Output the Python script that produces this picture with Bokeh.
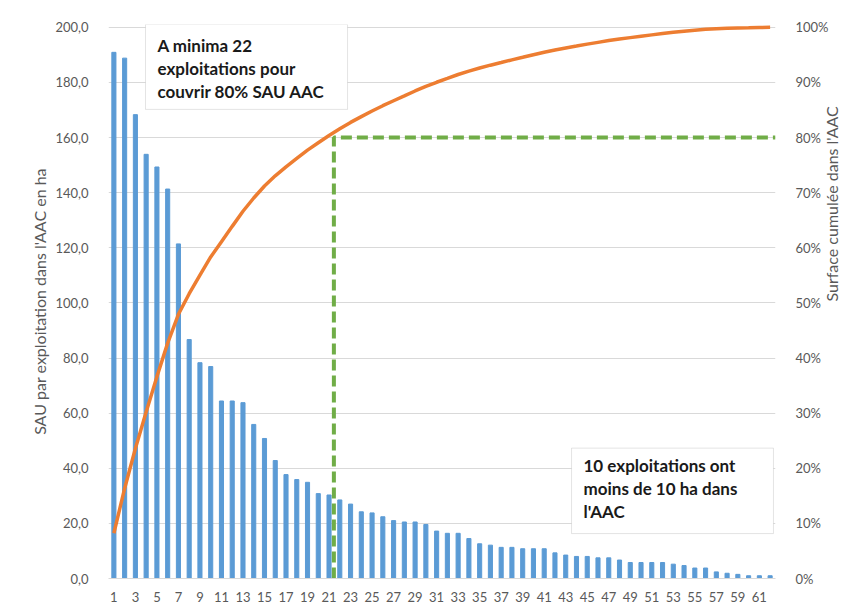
import math
from bokeh.plotting import figure
from bokeh.models import Range1d, LinearAxis, Label, BoxAnnotation, FixedTicker
from bokeh.embed import file_html
from bokeh.resources import INLINE

# ---- data ----
exploitations = list(range(1, 63))
sau_ha = [190.9, 188.8, 168.3, 153.9, 149.3, 141.3, 121.4, 86.7, 78.3, 76.9,
          64.4, 64.4, 63.8, 55.9, 50.8, 42.8, 37.7, 35.9, 34.9, 30.8,
          30.3, 28.5, 27.0, 24.2, 23.8, 22.4, 21.0, 20.5, 20.5, 19.6,
          17.2, 16.4, 16.4, 14.5, 12.6, 12.1, 11.3, 11.3, 10.8, 10.8,
          10.8, 9.3, 8.5, 8.0, 8.0, 7.5, 7.5, 6.7, 5.8, 5.8,
          5.8, 5.8, 5.2, 4.7, 3.8, 3.8, 2.4, 1.9, 1.5, 1.0,
          1.0, 1.0]
surface_cumulee = [0.0821, 0.1634, 0.2358, 0.3020, 0.3662, 0.4270, 0.4793, 0.5166, 0.5503, 0.5833,
                   0.6110, 0.6388, 0.6662, 0.6903, 0.7121, 0.7305, 0.7468, 0.7622, 0.7772, 0.7905,
                   0.8035, 0.8158, 0.8274, 0.8378, 0.8480, 0.8577, 0.8667, 0.8755, 0.8844, 0.8928,
                   0.9002, 0.9072, 0.9143, 0.9205, 0.9260, 0.9312, 0.9360, 0.9409, 0.9455, 0.9502,
                   0.9548, 0.9588, 0.9625, 0.9659, 0.9694, 0.9726, 0.9758, 0.9787, 0.9812, 0.9837,
                   0.9862, 0.9887, 0.9909, 0.9929, 0.9946, 0.9962, 0.9973, 0.9981, 0.9987, 0.9991,
                   0.9996, 1.0000]
x_ticks = list(range(1, 63, 2))
left_ticks = [0, 20, 40, 60, 80, 100, 120, 140, 160, 180, 200]
left_tick_labels = ["0,0", "20,0", "40,0", "60,0", "80,0", "100,0", "120,0", "140,0", "160,0", "180,0", "200,0"]
right_ticks = [0.0, 0.1, 0.2, 0.3, 0.4, 0.5, 0.6, 0.7, 0.8, 0.9, 1.0]
right_tick_labels = ["0%", "10%", "20%", "30%", "40%", "50%", "60%", "70%", "80%", "90%", "100%"]
seuil_x = 21.45
seuil_pct = 0.80

FONT = "Lato"
GREY = "#595959"

p = figure(width=861, height=616, output_backend="svg", toolbar_location=None,
           x_range=Range1d(0.5, 62.5), y_range=Range1d(0, 201),
           min_border_left=108, min_border_right=86, min_border_top=24, min_border_bottom=38)
p.extra_y_ranges = {"pct": Range1d(0, 1.005)}
p.outline_line_color = None
p.background_fill_color = "white"
p.border_fill_color = "white"

# grid
p.xgrid.grid_line_color = None
p.ygrid.grid_line_color = "#D9D9D9"
p.ygrid.ticker = FixedTicker(ticks=left_ticks)

# axes
p.xaxis.ticker = FixedTicker(ticks=x_ticks)
p.xaxis.axis_line_color = "#D9D9D9"
p.xaxis.major_tick_line_color = None
p.xaxis.minor_tick_line_color = None
p.xaxis.major_label_text_font = FONT
p.xaxis.major_label_text_font_size = "13px"
p.xaxis.major_label_text_color = GREY
p.xaxis.major_label_standoff = 7

p.yaxis.ticker = FixedTicker(ticks=left_ticks)
p.yaxis.major_label_overrides = dict(zip(left_ticks, left_tick_labels))
p.yaxis.axis_line_color = None
p.yaxis.major_tick_line_color = None
p.yaxis.minor_tick_line_color = None
p.yaxis.major_label_text_font = FONT
p.yaxis.major_label_text_font_size = "13px"
p.yaxis.major_label_text_color = GREY
p.yaxis.major_label_standoff = 14
p.yaxis.axis_label = "SAU par exploitation dans l'AAC en ha"
p.yaxis.axis_label_text_font = FONT
p.yaxis.axis_label_text_font_style = "normal"
p.yaxis.axis_label_text_font_size = "16px"
p.yaxis.axis_label_text_color = GREY
p.yaxis.axis_label_standoff = 3

ax_r = LinearAxis(y_range_name="pct", ticker=FixedTicker(ticks=right_ticks))
ax_r.major_label_overrides = dict(zip(right_ticks, right_tick_labels))
ax_r.axis_line_color = None
ax_r.major_tick_line_color = None
ax_r.minor_tick_line_color = None
ax_r.major_label_text_font = FONT
ax_r.major_label_text_font_size = "13px"
ax_r.major_label_text_color = GREY
ax_r.major_label_standoff = 14
p.add_layout(ax_r, "right")

# right axis title on a tick-less companion axis, reading bottom-to-top
ax_t = LinearAxis(y_range_name="pct", ticker=FixedTicker(ticks=[]), bounds=(0.0, 0.69))
ax_t.axis_line_color = None
ax_t.major_tick_line_color = None
ax_t.minor_tick_line_color = None
ax_t.major_label_text_font_size = "0px"
ax_t.axis_label = "Surface cumulée dans l'AAC"
ax_t.axis_label_orientation = math.pi / 2
ax_t.axis_label_text_font = FONT
ax_t.axis_label_text_font_style = "normal"
ax_t.axis_label_text_font_size = "16px"
ax_t.axis_label_text_color = GREY
ax_t.axis_label_standoff = 0
p.add_layout(ax_t, "right")

# bars
p.vbar(x=exploitations, top=sau_ha, width=0.38, color="#5B9BD5")

# cumulative line
p.line(exploitations, surface_cumulee, y_range_name="pct", line_color="#ED7D31", line_width=3.5)

# 80% threshold
p.line([seuil_x, seuil_x, 62.5], [0, seuil_pct, seuil_pct], y_range_name="pct",
       line_color="#70AD47", line_width=4, line_dash="11 5")

# annotation boxes
box1 = BoxAnnotation(left=3.94, right=22.72, bottom=170.2, top=201,
                     fill_color="white", fill_alpha=1, line_color="#A6A6A6", line_width=1)
box2 = BoxAnnotation(left=43.54, right=62.31, bottom=16.3, top=47.3,
                     fill_color="white", fill_alpha=1, line_color="#A6A6A6", line_width=1)
p.add_layout(box1)
p.add_layout(box2)

lines1 = ["A minima 22", "exploitations pour", "couvrir 80% SAU AAC"]
ys1 = [193.4, 185.1, 176.8]
for t, y in zip(lines1, ys1):
    p.add_layout(Label(x=5.05, y=y, text=t, text_font=FONT, text_font_style="bold",
                       text_font_size="17px", text_color="#1A1A1A", text_baseline="middle"))

lines2 = ["10 exploitations ont", "moins de 10 ha dans", "l'AAC"]
ys2 = [40.9, 32.6, 24.3]
for t, y in zip(lines2, ys2):
    p.add_layout(Label(x=44.65, y=y, text=t, text_font=FONT, text_font_style="bold",
                       text_font_size="17px", text_color="#1A1A1A", text_baseline="middle"))

open("out.html", "w").write(file_html(p, INLINE))
